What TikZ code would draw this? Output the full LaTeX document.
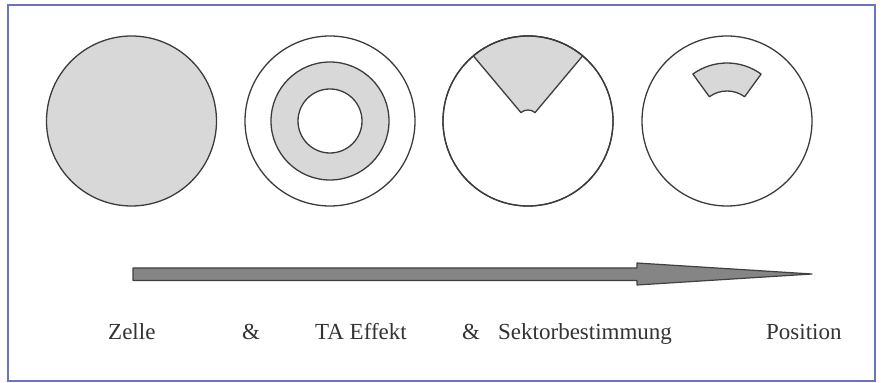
\documentclass[tikz,border=0pt]{standalone}
\usepackage{fontspec}
\setmainfont{Liberation Serif}
\tikzset{
  disc/.style={circle, draw=linegray, line width=1.3pt, minimum size=170pt, inner sep=0pt},
  shaded/.style={fill=cellgray, draw=linegray, line width=1.3pt, line join=round},
  caption/.style={anchor=base west, inner sep=0pt, text=textgray, font=\fontsize{23}{26}\selectfont},
  shaft/.style={fill=arrowgray, draw=arrowedge, line width=1.2pt, line join=round}
}
\definecolor{linegray}{HTML}{3C3C3C}
\definecolor{cellgray}{HTML}{D8D8D8}
\definecolor{textgray}{HTML}{333333}
\definecolor{arrowgray}{HTML}{858585}
\definecolor{arrowedge}{HTML}{404040}
\definecolor{framecol}{HTML}{6C74C0}
\begin{document}
\begin{tikzpicture}[x=1pt, y=1pt]
  \useasboundingbox (0,0) rectangle (884,383);
  \fill[white] (0,0) rectangle (884,383);
  % outer frame
  \draw[framecol, line width=1.5pt] (8,2) rectangle (875,378);

  % centres of the four cells
  \coordinate (c1) at (131.5,262);
  \coordinate (c2) at (330,262);
  \coordinate (c3) at (528,262);
  \coordinate (c4) at (727,262);

  % cell 1: whole cell shaded
  \node[disc, fill=cellgray] (cell1) at (c1) {};

  % cell 2: shaded ring
  \node[disc, fill=white] (cell2) at (c2) {};
  \node[disc, fill=cellgray, minimum size=118pt] (ring2) at (c2) {};
  \node[disc, fill=white, minimum size=64pt] (hole2) at (c2) {};

  % cell 3: shaded sector
  \node[disc, fill=white] (cell3) at (c3) {};
  \path[shaded, shift={(c3)}] (50:11) -- (50:85) arc[start angle=50, end angle=130, radius=85]
       -- (130:11) arc[start angle=130, end angle=50, radius=11] -- cycle;
  \node[disc] at (c3) {};

  % cell 4: shaded ring sector
  \node[disc, fill=white] (cell4) at (c4) {};
  \path[shaded, shift={(c4)}] (54:30) -- (54:58) arc[start angle=54, end angle=126, radius=58]
       -- (126:30) arc[start angle=126, end angle=54, radius=30] -- cycle;

  % progress arrow
  \coordinate (tail) at (133,108.75);
  \coordinate (tip) at (812,109);
  \path[shaft] (tail |- 0,115) -- (637,115) -- (637,120) -- (tip) -- (637,98) -- (637,102.5)
       -- (tail |- 0,102.5) -- cycle;

  % captions
  \node[caption] (t1) at (108,43) {Zelle};
  \node[caption] (a1) at (242,43) {\&};
  \node[caption] (t2) at (315,43) {TA Effekt};
  \node[caption] (a2) at (462,43) {\&};
  \node[caption] (t3) at (498,43) {Sektorbestimmung};
  \node[caption] (t4) at (766,43) {Position};
\end{tikzpicture}
\end{document}
